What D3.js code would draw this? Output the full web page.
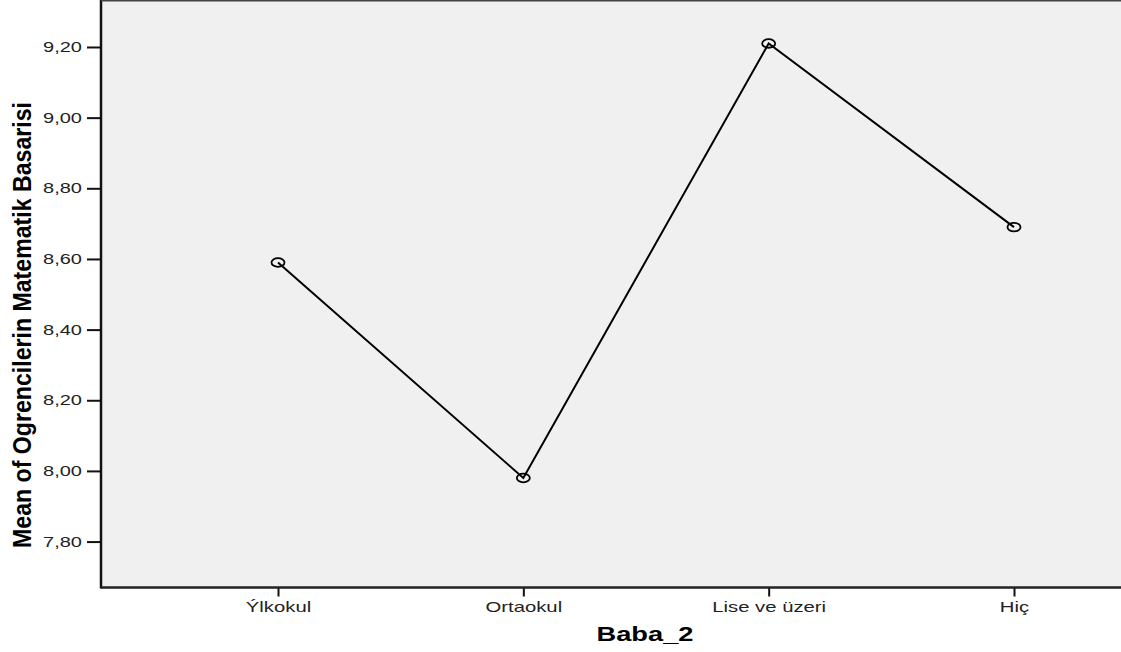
<!DOCTYPE html>
<html lang="en">
<head>
    <meta charset="utf-8">
    <title>Baba_2 means</title>
    <script src="https://cdn.jsdelivr.net/npm/d3@7/dist/d3.min.js"></script>
    <style>
        body { margin: 0; background: #fff; }
        svg { display: block; }
    </style>
</head>
<body>
    <script type="text/javascript">
        var categories = ["Ýlkokul", "Ortaokul", "Lise ve üzeri", "Hiç"];
        var means = [8.59, 7.98, 9.21, 8.69];
        var yTicks = [7.8, 8.0, 8.2, 8.4, 8.6, 8.8, 9.0, 9.2];

        var w = 1121;
        var h = 652;
        var plotLeft = 101, plotTop = 1, plotBottom = 587.5, plotRight = 1121;
        var stretch = 1.43; // the original picture is wide-stretched

        var svg = d3.select("body")
            .append("svg")
            .attr("width", w)
            .attr("height", h);

        // plot background
        svg.append("rect")
            .attr("x", plotLeft)
            .attr("y", plotTop)
            .attr("width", plotRight - plotLeft)
            .attr("height", plotBottom - plotTop)
            .attr("fill", "#f0f0f0");

        var x = d3.scalePoint()
            .domain(categories)
            .range([278, 1014]);

        var y = d3.scaleLinear()
            .domain([7.67, 9.333])
            .range([plotBottom, 0]);

        var fmt = function(d) { return d3.format(".2f")(d).replace(".", ","); };

        // y axis
        var yAxis = svg.append("g")
            .attr("transform", "translate(" + plotLeft + ",0)")
            .call(d3.axisLeft(y).tickValues(yTicks).tickFormat(fmt).tickSize(14).tickPadding(5));
        yAxis.select(".domain").remove();
        yAxis.selectAll(".tick line").attr("stroke", "#111").attr("stroke-width", 2);
        yAxis.selectAll(".tick text")
            .attr("x", -19 / stretch)
            .attr("transform", "scale(" + stretch + ",1)")
            .attr("font-family", "Liberation Sans, Arial, sans-serif")
            .attr("font-size", "14px")
            .attr("fill", "#222");

        // x axis
        var xAxis = svg.append("g")
            .attr("transform", "translate(0," + plotBottom + ")")
            .call(d3.axisBottom(x).tickSize(9).tickPadding(0));
        xAxis.select(".domain").remove();
        xAxis.selectAll(".tick line").attr("stroke", "#111").attr("stroke-width", 2);
        xAxis.selectAll(".tick text")
            .attr("y", 24.5)
            .attr("dy", null)
            .attr("transform", "scale(1.45,1)")
            .attr("font-family", "Liberation Sans, Arial, sans-serif")
            .attr("font-size", "14px")
            .attr("fill", "#222");

        // frame lines
        svg.append("line")
            .attr("x1", plotLeft).attr("x2", plotLeft)
            .attr("y1", 0).attr("y2", plotBottom + 1)
            .attr("stroke", "#111").attr("stroke-width", 2.5);
        svg.append("line")
            .attr("x1", plotLeft).attr("x2", plotRight)
            .attr("y1", plotBottom).attr("y2", plotBottom)
            .attr("stroke", "#222").attr("stroke-width", 2.5);
        svg.append("line")
            .attr("x1", plotLeft).attr("x2", plotRight)
            .attr("y1", 0.5).attr("y2", 0.5)
            .attr("stroke", "#444").attr("stroke-width", 2);

        // the line
        var line = d3.line()
            .x(function(d, i) { return x(categories[i]); })
            .y(function(d) { return y(d); });

        svg.append("path")
            .datum(means)
            .attr("d", line)
            .attr("fill", "none")
            .attr("stroke", "#000")
            .attr("stroke-width", 2);

        svg.selectAll("ellipse")
            .data(means)
            .enter()
            .append("ellipse")
            .attr("cx", function(d, i) { return x(categories[i]); })
            .attr("cy", function(d) { return y(d); })
            .attr("rx", 6.5)
            .attr("ry", 4.3)
            .attr("fill", "none")
            .attr("stroke", "#000")
            .attr("stroke-width", 1.8);

        // axis titles
        svg.append("text")
            .text("Baba_2")
            .attr("transform", "translate(645,641) scale(1.33,1)")
            .attr("text-anchor", "middle")
            .attr("font-family", "Liberation Sans, Arial, sans-serif")
            .attr("font-weight", "bold")
            .attr("font-size", "20.5px")
            .attr("fill", "#000");

        svg.append("text")
            .text("Mean of Ogrencilerin Matematik Basarisi")
            .attr("transform", "translate(31,325) rotate(-90) scale(0.925,1)")
            .attr("text-anchor", "middle")
            .attr("font-family", "Liberation Sans, Arial, sans-serif")
            .attr("font-weight", "bold")
            .attr("font-size", "25px")
            .attr("fill", "#000");
    </script>
</body>
</html>
